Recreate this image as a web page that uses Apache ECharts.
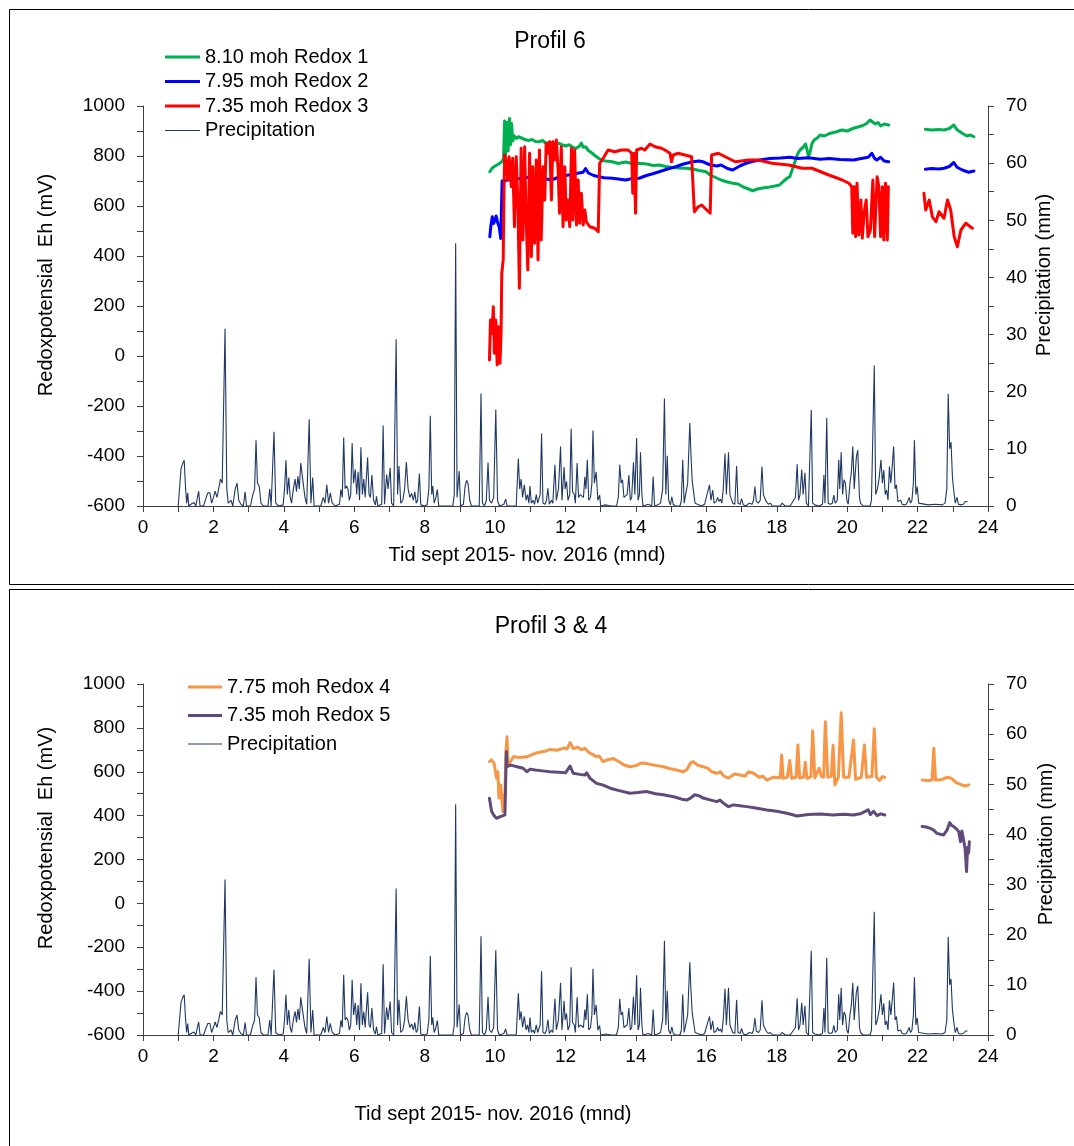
<!DOCTYPE html>
<html>
<head>
  <meta charset="utf-8">
  <title>Redox og nedbør</title>
  <script src="https://cdn.jsdelivr.net/npm/echarts@6/dist/echarts.min.js"></script>
  <style>
    html, body { margin: 0; padding: 0; background: #fff; }
  </style>
</head>
<body>
<div id="main" style="width: 1074px;height:1146px;"></div>
<script type="text/javascript">
  // x = måned (0-24), nedbør i mm (høyre akse)
  var precip = [
    [1.00,0],[1.03,0],[1.08,6.5],[1.13,7.5],[1.17,8.0],[1.21,3],[1.24,0.5],[1.27,2.3],[1.30,0],[1.36,0.3],[1.40,0],[1.45,0.6],[1.50,0],
    [1.58,2.6],[1.62,0],[1.72,0],[1.78,1.2],[1.84,2.3],[1.90,2.3],[1.95,0.5],[2.00,1.5],[2.05,2.6],[2.10,1.5],[2.15,3],[2.20,4.7],[2.25,4],
    [2.33,31],[2.38,3],[2.42,0.5],[2.50,1],[2.55,0],[2.62,3],[2.67,4],[2.72,1],[2.78,0.3],[2.85,0],[2.90,2.5],[2.94,0],[3.05,0],[3.12,2],
    [3.17,3],[3.21,11.5],[3.25,4],[3.30,3.5],[3.35,0.5],[3.42,0],[3.55,0],[3.60,3],[3.64,0],[3.72,13],[3.77,0.5],[3.85,0],[3.98,0.2],
    [4.02,3],[4.06,8],[4.10,2],[4.14,5],[4.18,1.5],[4.22,0.5],[4.27,3],[4.32,4.7],[4.36,2.5],[4.40,5.2],[4.44,3],[4.48,7.5],[4.52,5.5],
    [4.56,5.5],[4.60,1.5],[4.65,0.3],[4.72,15.2],[4.77,0.5],[4.82,5],[4.86,0],[5.05,0],[5.12,1.5],[5.17,0.5],[5.22,3.7],[5.27,0.5],
    [5.32,2.3],[5.37,0.6],[5.45,0],[5.58,0.3],[5.62,2.9],[5.66,1.5],[5.70,12],[5.74,3],[5.78,3.5],[5.82,3],[5.86,1],[5.90,2],[5.94,11],
    [5.98,4],[6.03,6.4],[6.07,2],[6.11,6],[6.15,1],[6.19,10.3],[6.23,2],[6.27,4.7],[6.31,1.5],[6.38,8.5],[6.42,2],[6.46,1.5],[6.50,5.4],
    [6.55,1],[6.60,0.2],[6.63,1.7],[6.67,0],[6.78,0.3],[6.82,14.1],[6.86,0.3],[6.92,5.5],[6.96,3],[7.02,6.7],[7.06,0.5],[7.12,0],
    [7.19,29.2],[7.23,2],[7.27,7],[7.32,0.5],[7.38,1],[7.43,3],[7.48,7.7],[7.53,3],[7.58,1.5],[7.63,2.2],[7.68,1],[7.72,2.5],[7.76,0.5],
    [7.80,1],[7.85,5.7],[7.89,0.2],[8.00,0],[8.07,0.2],[8.12,3],[8.16,15.8],[8.20,2],[8.23,3.5],[8.27,0.5],[8.32,1.5],[8.36,2.9],[8.40,0],
    [8.80,0],[8.84,2],[8.88,46],[8.92,1.5],[8.98,6.1],[9.02,0],[9.10,0.3],[9.15,3.5],[9.19,4.5],[9.23,4],[9.28,1],[9.33,0],[9.55,0],
    [9.60,19.7],[9.64,0.5],[9.70,0],[9.75,1],[9.80,7.6],[9.84,1],[9.90,0.5],[9.96,1.5],[10.02,16.9],[10.07,1],[10.12,0],[10.25,0.3],
    [10.30,1.2],[10.34,0],[10.60,0],[10.66,8.3],[10.70,3],[10.74,4.7],[10.78,1.5],[10.83,3.7],[10.88,1],[10.92,2],[10.96,0.5],[10.99,3.5],
    [11.03,0.5],[11.08,1],[11.12,0.3],[11.17,2],[11.21,0.5],[11.28,2],[11.32,12.7],[11.36,0.5],[11.42,0.3],[11.46,1],[11.50,3.1],[11.54,0.3],
    [11.60,1],[11.64,0.5],[11.70,7.2],[11.74,1],[11.80,3],[11.86,10.4],[11.90,1],[11.96,6.8],[11.99,3],[12.03,4.3],[12.07,1],[12.12,2],
    [12.16,13.5],[12.20,2.5],[12.25,2],[12.28,0.5],[12.33,7.5],[12.37,1.5],[12.42,2],[12.47,2],[12.51,1.5],[12.55,5.1],[12.58,3],[12.62,8.1],
    [12.66,1],[12.71,1.5],[12.75,4],[12.78,13.2],[12.82,4],[12.87,6],[12.92,1],[12.97,1.9],[13.00,0],[13.14,0.2],[13.22,0.1],[13.30,0],
    [13.45,0],[13.50,1.5],[13.54,7.2],[13.58,4],[13.62,4.6],[13.66,1.5],[13.70,1.5],[13.75,2],[13.80,5.4],[13.84,1],[13.88,1.5],[13.93,7.6],
    [13.97,2],[14.02,11.9],[14.06,1],[14.10,2],[14.13,9.4],[14.17,2],[14.20,0],[14.35,0.3],[14.40,0.1],[14.45,0],[14.49,5.1],[14.53,0],
    [14.62,0.2],[14.70,0.5],[14.76,3],[14.81,18.8],[14.85,2],[14.89,8.8],[14.93,1],[14.98,0.2],[15.02,1.6],[15.06,0.3],[15.12,0],[15.25,0],
    [15.29,1],[15.33,8.1],[15.37,0.5],[15.42,0.8],[15.47,4],[15.53,14.5],[15.57,8],[15.60,4.3],[15.64,4],[15.68,0.5],[15.75,0.3],[15.80,0.5],
    [15.86,0],[15.95,0.3],[16.00,0.5],[16.04,2.5],[16.09,3.7],[16.13,1],[16.18,2.8],[16.22,0.5],[16.28,0.8],[16.32,1.5],[16.36,0.8],
    [16.40,1.2],[16.44,0.5],[16.48,3],[16.53,9.2],[16.57,2],[16.63,9.4],[16.67,2],[16.71,2.2],[16.75,0.5],[16.81,0.3],[16.86,7],[16.90,0.5],
    [16.96,0.3],[17.00,1.3],[17.05,0.2],[17.12,0],[17.22,0.5],[17.26,0.8],[17.30,0.3],[17.34,1],[17.38,3.4],[17.42,0.8],[17.48,0.5],
    [17.53,1],[17.58,6.9],[17.62,2],[17.66,2.2],[17.70,0.8],[17.76,0.3],[17.82,0.5],[17.88,0],[18.10,0],[18.15,0.5],[18.19,0.8],[18.24,0],
    [18.38,0],[18.42,0.3],[18.48,1],[18.53,1.5],[18.58,7.3],[18.62,1],[18.66,2],[18.71,6.4],[18.75,2],[18.80,5.8],[18.84,0.5],[18.90,0],
    [18.94,0.2],[18.98,16.8],[19.02,0.5],[19.08,0.2],[19.20,0],[19.30,0.3],[19.34,5.4],[19.37,0.5],[19.42,15.4],[19.46,0.5],[19.52,0.3],
    [19.58,0.5],[19.62,1.9],[19.66,0.5],[19.72,1],[19.76,8.1],[19.79,3],[19.83,9.4],[19.87,2],[19.91,4.6],[19.95,4],[19.99,1],[20.03,0.3],
    [20.08,4],[20.12,6],[20.16,10.4],[20.20,3],[20.26,8.5],[20.30,9.8],[20.35,1.5],[20.38,0.5],[20.45,0],[20.65,0],[20.69,1],[20.73,1.3],
    [20.77,24.6],[20.81,2],[20.86,3],[20.91,5],[20.96,8.1],[21.00,4],[21.04,6.3],[21.08,2],[21.12,2.8],[21.16,1],[21.20,6.9],[21.24,4],
    [21.28,7],[21.32,10.4],[21.36,3],[21.40,3.7],[21.44,0.8],[21.48,0.5],[21.52,1],[21.56,0.3],[21.62,0.2],[21.68,0.3],[21.72,0.8],
    [21.76,1.5],[21.80,0.5],[21.84,1],[21.88,4],[21.91,11.5],[21.95,2],[21.99,3.4],[22.03,0.5],[22.08,0.2],[22.30,0.2],[22.50,0.3],
    [22.70,0.2],[22.78,0.5],[22.83,3],[22.87,19.6],[22.91,10],[22.95,11.2],[22.99,5],[23.03,2.5],[23.07,0.5],[23.12,1.5],[23.16,0.3],
    [23.22,0.2],[23.30,0.3],[23.36,0.8],[23.42,0.8]
  ];

  // Profil 6, Eh i mV
  var redox1 = [
    [9.85,737],[9.92,752],[10.0,760],[10.1,768],[10.19,777],[10.24,790],[10.27,940],[10.3,800],[10.33,935],[10.37,820],[10.41,950],
    [10.44,845],[10.47,930],[10.5,860],[10.55,880],[10.6,870],[10.66,877],[10.75,872],[10.85,866],[10.95,862],[11.05,866],[11.15,858],
    [11.24,857],[11.35,862],[11.45,850],[11.55,855],[11.65,848],[11.8,851],[11.9,845],[12.0,840],[12.1,845],[12.19,837],[12.3,830],
    [12.4,840],[12.45,852],[12.5,835],[12.57,837],[12.65,822],[12.75,812],[12.85,800],[12.95,790],[13.05,782],[13.15,780],[13.33,777],
    [13.5,770],[13.7,776],[13.9,770],[14.09,771],[14.3,768],[14.5,762],[14.66,764],[14.85,758],[15.0,755],[15.2,752],[15.42,751],
    [15.6,748],[15.8,742],[15.99,737],[16.1,725],[16.2,718],[16.42,704],[16.6,696],[16.75,691],[16.9,688],[17.05,676],[17.2,668],
    [17.32,661],[17.45,668],[17.6,672],[17.8,676],[17.95,680],[18.08,684],[18.2,700],[18.3,712],[18.37,717],[18.5,770],[18.6,810],
    [18.66,824],[18.75,835],[18.82,848],[18.9,800],[18.94,812],[19.0,850],[19.06,864],[19.15,872],[19.23,884],[19.35,880],[19.5,890],
    [19.7,897],[19.85,904],[20.0,900],[20.18,911],[20.3,916],[20.45,922],[20.55,930],[20.65,944],[20.72,936],[20.8,928],[20.88,934],
    [20.95,920],[21.05,928],[21.18,924],[21.6,'-'],
    [22.22,907],[22.4,904],[22.6,906],[22.75,904],[22.9,910],[23.03,924],[23.12,905],[23.27,891],[23.4,880],[23.5,884],[23.6,877]
  ];
  var redox2 = [
    [9.85,477],[9.88,520],[9.92,557],[9.96,530],[10.0,545],[10.03,560],[10.08,530],[10.12,515],[10.16,470],[10.2,700],[10.4,705],
    [10.6,708],[10.8,712],[11.0,715],[11.2,706],[11.4,710],[11.6,704],[11.8,715],[12.0,722],[12.09,724],[12.3,730],[12.5,735],
    [12.57,750],[12.65,732],[12.8,722],[12.95,717],[13.1,713],[13.33,711],[13.5,708],[13.71,704],[13.9,710],[14.09,711],[14.3,722],
    [14.5,730],[14.66,737],[14.9,748],[15.13,757],[15.35,768],[15.61,777],[15.8,780],[15.9,777],[16.1,765],[16.3,760],[16.42,764],
    [16.6,750],[16.75,744],[16.95,760],[17.13,771],[17.3,778],[17.51,784],[17.8,790],[18.1,792],[18.37,795],[18.6,790],[18.9,793],
    [19.23,787],[19.5,790],[19.8,786],[20.18,784],[20.4,790],[20.6,795],[20.7,811],[20.78,790],[20.84,784],[20.95,795],[21.05,780],
    [21.18,777],[21.6,'-'],
    [22.22,747],[22.4,750],[22.6,748],[22.75,751],[22.9,758],[23.03,774],[23.12,755],[23.27,744],[23.45,735],[23.6,740]
  ];
  var redox3 = [
    [9.84,-16],[9.87,144],[9.91,91],[9.95,197],[9.98,11],[10.02,144],[10.06,-36],[10.10,117],[10.14,-29],[10.17,91],[10.19,331],
    [10.23,384],[10.25,624],[10.27,804],[10.31,784],[10.36,704],[10.40,797],[10.46,677],[10.50,791],[10.55,517],[10.60,797],
    [10.65,597],[10.69,271],[10.74,831],[10.79,464],[10.84,837],[10.88,557],[10.93,344],[10.98,811],[11.03,397],[11.07,757],
    [11.12,451],[11.17,784],[11.22,384],[11.26,824],[11.31,464],[11.36,757],[11.41,624],[11.45,851],[11.50,811],[11.55,857],
    [11.60,624],[11.64,857],[11.69,784],[11.74,864],[11.79,744],[11.83,571],[11.88,837],[11.93,517],[11.98,757],[12.02,544],
    [12.07,624],[12.12,517],[12.17,831],[12.21,544],[12.26,824],[12.31,524],[12.36,704],[12.40,531],[12.45,651],[12.50,524],
    [12.55,584],[12.59,537],[12.69,517],[12.83,511],[12.93,497],[12.97,771],[13.07,791],[13.21,824],[13.40,817],[13.59,824],
    [13.78,824],[13.88,811],[13.91,651],[13.95,811],[13.99,571],[14.02,824],[14.16,831],[14.25,824],[14.40,848],[14.54,837],
    [14.73,831],[14.82,824],[14.97,811],[15.01,777],[15.06,804],[15.20,811],[15.39,804],[15.58,797],[15.63,791],[15.66,577],
    [15.77,597],[15.87,604],[16.01,584],[16.11,571],[16.15,804],[16.34,811],[16.82,777],[17.20,784],[17.48,784],[17.86,771],
    [18.34,764],[18.72,751],[19.00,751],[19.48,724],[19.86,704],[20.05,691],[20.13,677],[20.16,491],[20.20,677],[20.24,477],
    [20.28,691],[20.33,484],[20.39,624],[20.43,471],[20.48,571],[20.54,624],[20.59,477],[20.66,504],[20.73,704],[20.78,477],
    [20.85,717],[20.90,677],[20.95,477],[21.00,677],[21.04,464],[21.09,691],[21.14,464],[21.17,677],[21.6,'-'],
    [22.18,651],[22.23,584],[22.33,624],[22.42,557],[22.52,537],[22.61,577],[22.75,551],[22.85,624],[22.94,584],[23.04,477],
    [23.13,437],[23.23,504],[23.37,531],[23.47,520],[23.56,511]
  ];

  // Profil 3 & 4, Eh i mV
  var redox4 = [
    [9.84,646],[9.9,654],[9.97,640],[10.04,571],[10.08,600],[10.11,480],[10.16,540],[10.22,418],[10.28,509],[10.31,700],[10.34,760],
    [10.37,631],[10.45,650],[10.53,669],[10.7,665],[10.9,668],[11.0,675],[11.14,684],[11.3,690],[11.45,695],[11.56,702],[11.75,698],
    [11.95,708],[12.05,705],[12.13,733],[12.22,706],[12.35,712],[12.45,700],[12.55,707],[12.65,690],[12.75,680],[12.88,669],
    [12.95,672],[13.07,646],[13.2,655],[13.36,660],[13.5,648],[13.65,632],[13.83,623],[14.0,628],[14.15,640],[14.3,638],[14.45,632],
    [14.6,628],[14.78,623],[14.95,615],[15.15,608],[15.35,600],[15.45,610],[15.55,640],[15.63,646],[15.75,630],[15.91,623],
    [16.05,615],[16.15,600],[16.3,593],[16.4,600],[16.5,580],[16.63,571],[16.68,562],[16.8,590],[16.96,585],[17.1,580],[17.2,600],
    [17.34,593],[17.5,575],[17.6,580],[17.72,562],[17.9,575],[18.1,574],[18.14,676],[18.18,570],[18.3,575],[18.37,651],[18.42,570],
    [18.55,575],[18.6,722],[18.65,572],[18.76,575],[18.81,643],[18.86,570],[18.97,578],[19.02,787],[19.08,572],[19.2,616],
    [19.27,578],[19.33,575],[19.38,828],[19.45,575],[19.55,580],[19.6,721],[19.65,540],[19.75,575],[19.83,869],[19.9,575],
    [20.05,575],[20.18,745],[20.24,565],[20.4,575],[20.49,722],[20.55,575],[20.7,578],[20.77,796],[20.83,575],[20.92,560],
    [21.0,578],[21.07,575],[21.6,'-'],
    [22.13,562],[22.3,560],[22.41,562],[22.46,707],[22.51,562],[22.7,565],[22.85,575],[22.96,570],[23.1,550],[23.25,540],
    [23.35,535],[23.45,540]
  ];
  var redox5 = [
    [9.84,479],[9.9,420],[9.97,400],[10.04,388],[10.15,395],[10.28,403],[10.32,691],[10.34,623],[10.45,630],[10.62,623],[10.8,616],
    [10.9,600],[11.0,612],[11.14,608],[11.35,604],[11.56,600],[11.8,598],[12.0,595],[12.13,626],[12.22,593],[12.4,588],[12.55,585],
    [12.6,595],[12.7,570],[12.88,547],[13.05,540],[13.27,525],[13.5,515],[13.83,502],[14.05,505],[14.3,510],[14.55,500],[14.78,495],
    [15.1,485],[15.3,475],[15.44,471],[15.55,480],[15.67,495],[15.8,490],[15.91,480],[16.1,472],[16.3,464],[16.39,471],[16.5,455],
    [16.63,441],[16.77,449],[16.95,445],[17.15,441],[17.4,435],[17.72,426],[18.0,420],[18.29,411],[18.58,398],[18.9,405],[19.24,407],
    [19.6,403],[19.9,406],[20.18,403],[20.4,410],[20.6,426],[20.66,405],[20.75,420],[20.85,400],[20.95,408],[21.07,403],[21.6,'-'],
    [22.13,350],[22.25,348],[22.36,342],[22.45,335],[22.55,319],[22.65,315],[22.74,312],[22.84,335],[22.91,368],[22.97,355],
    [23.03,350],[23.1,340],[23.17,327],[23.22,281],[23.26,330],[23.3,335],[23.35,250],[23.39,145],[23.42,255],[23.45,230],[23.47,281]
  ];

  var FONT = 'Liberation Sans, Arial, sans-serif';
  var AXIS = '#404040';
  var thick = 'path://M0,0H35V3H0Z';
  var thin = 'path://M0,0H35V1H0Z';

  function xAxisFor(i) {
    return {
      gridIndex: i, type: 'value', min: 0, max: 24, interval: 2,
      axisLine: { onZero: false, lineStyle: { color: AXIS, width: 1 } },
      axisTick: { length: 6, lineStyle: { color: AXIS } },
      minorTick: { show: true, splitNumber: 2, length: 6, lineStyle: { color: AXIS } },
      axisLabel: { fontSize: 19, color: '#000', margin: 12, fontFamily: FONT },
      splitLine: { show: false }
    };
  }
  function leftAxis(i) {
    return {
      gridIndex: i, type: 'value', position: 'left', min: -600, max: 1000, interval: 200,
      axisLine: { show: true, lineStyle: { color: AXIS, width: 1 } },
      axisTick: { show: true, length: 6, lineStyle: { color: AXIS } },
      minorTick: { show: true, splitNumber: 2, length: 6, lineStyle: { color: AXIS } },
      axisLabel: { fontSize: 19, color: '#000', margin: 18, fontFamily: FONT,
        formatter: function (v) { return String(v); } },
      splitLine: { show: false }
    };
  }
  function rightAxis(i) {
    return {
      gridIndex: i, type: 'value', position: 'right', min: 0, max: 70, interval: 10,
      axisLine: { show: true, lineStyle: { color: AXIS, width: 1 } },
      axisTick: { show: true, length: 6, lineStyle: { color: AXIS } },
      minorTick: { show: true, splitNumber: 2, length: 6, lineStyle: { color: AXIS } },
      axisLabel: { fontSize: 19, color: '#000', margin: 18, fontFamily: FONT },
      splitLine: { show: false }
    };
  }
  function redox(name, data, color, xi, yi) {
    return {
      name: name, type: 'line', data: data, xAxisIndex: xi, yAxisIndex: yi,
      color: color, symbol: 'none', showSymbol: false,
      lineStyle: { width: 3, color: color, join: 'round', cap: 'round' }, z: 3
    };
  }
  function rain(xi, yi) {
    return {
      name: 'Precipitation', type: 'line', data: precip, xAxisIndex: xi, yAxisIndex: yi,
      color: '#1F3864', symbol: 'none', showSymbol: false,
      lineStyle: { width: 1.1, color: '#1F3864' }, z: 2
    };
  }
  function label(text, x, y, rot) {
    return {
      type: 'text', x: x, y: y, rotation: rot || 0,
      style: { text: text, fontSize: 20, fontFamily: FONT, fill: '#000', align: 'center', verticalAlign: 'middle' }
    };
  }

  var myChart = echarts.init(document.getElementById('main'));
  var option = {
    animation: false,
    backgroundColor: '#fff',
    textStyle: { fontFamily: FONT },
    title: [
      { text: 'Profil 6', left: 545, top: 25, textAlign: 'center',
        textStyle: { fontSize: 23, fontWeight: 'normal', color: '#000', fontFamily: FONT } },
      { text: 'Profil 3 & 4', left: 546, top: 610, textAlign: 'center',
        textStyle: { fontSize: 23, fontWeight: 'normal', color: '#000', fontFamily: FONT } }
    ],
    legend: [
      { orient: 'vertical', left: 160, top: 42, itemWidth: 35, itemHeight: 10, itemGap: 4.5,
        itemStyle: { borderWidth: 0 },
        textStyle: { fontSize: 20, color: '#000', fontFamily: FONT },
        data: [
          { name: '8.10 moh Redox 1', icon: thick },
          { name: '7.95 moh Redox 2', icon: thick },
          { name: '7.35 moh Redox 3', icon: thick },
          { name: 'Precipitation', icon: thin }
        ] },
      { orient: 'vertical', left: 183, top: 672, itemWidth: 34, itemHeight: 10, itemGap: 8.5,
        itemStyle: { borderWidth: 0 },
        textStyle: { fontSize: 20, color: '#000', fontFamily: FONT },
        data: [
          { name: '7.75 moh Redox 4', icon: thick },
          { name: '7.35 moh Redox 5', icon: thick },
          { name: 'Precipitation', icon: thin }
        ] }
    ],
    grid: [
      { left: 143, top: 106, width: 845, height: 400 },
      { left: 143, top: 684, width: 845, height: 351 }
    ],
    xAxis: [xAxisFor(0), xAxisFor(1)],
    yAxis: [leftAxis(0), rightAxis(0), leftAxis(1), rightAxis(1)],
    graphic: [
      { type: 'rect', shape: { x: 9.5, y: 9.5, width: 1080, height: 575 }, style: { fill: 'none', stroke: '#000', lineWidth: 1 }, z: -1 },
      { type: 'rect', shape: { x: 9.5, y: 589.5, width: 1080, height: 600 }, style: { fill: 'none', stroke: '#000', lineWidth: 1 }, z: -1 },
      label('Redoxpotensial  Eh (mV)', 46, 285, Math.PI / 2),
      label('Precipitation (mm)', 1044, 275, Math.PI / 2),
      label('Tid sept 2015- nov. 2016 (mnd)', 527, 555),
      label('Redoxpotensial  Eh (mV)', 46, 838, Math.PI / 2),
      label('Precipitation (mm)', 1046, 844, Math.PI / 2),
      label('Tid sept 2015- nov. 2016 (mnd)', 493, 1114)
    ],
    series: [
      rain(0, 1),
      redox('8.10 moh Redox 1', redox1, '#00B050', 0, 0),
      redox('7.95 moh Redox 2', redox2, '#0000FF', 0, 0),
      redox('7.35 moh Redox 3', redox3, '#FF0000', 0, 0),
      rain(1, 3),
      redox('7.75 moh Redox 4', redox4, '#F79646', 1, 2),
      redox('7.35 moh Redox 5', redox5, '#604A7B', 1, 2)
    ]
  };
  myChart.setOption(option);
</script>
</body>
</html>
